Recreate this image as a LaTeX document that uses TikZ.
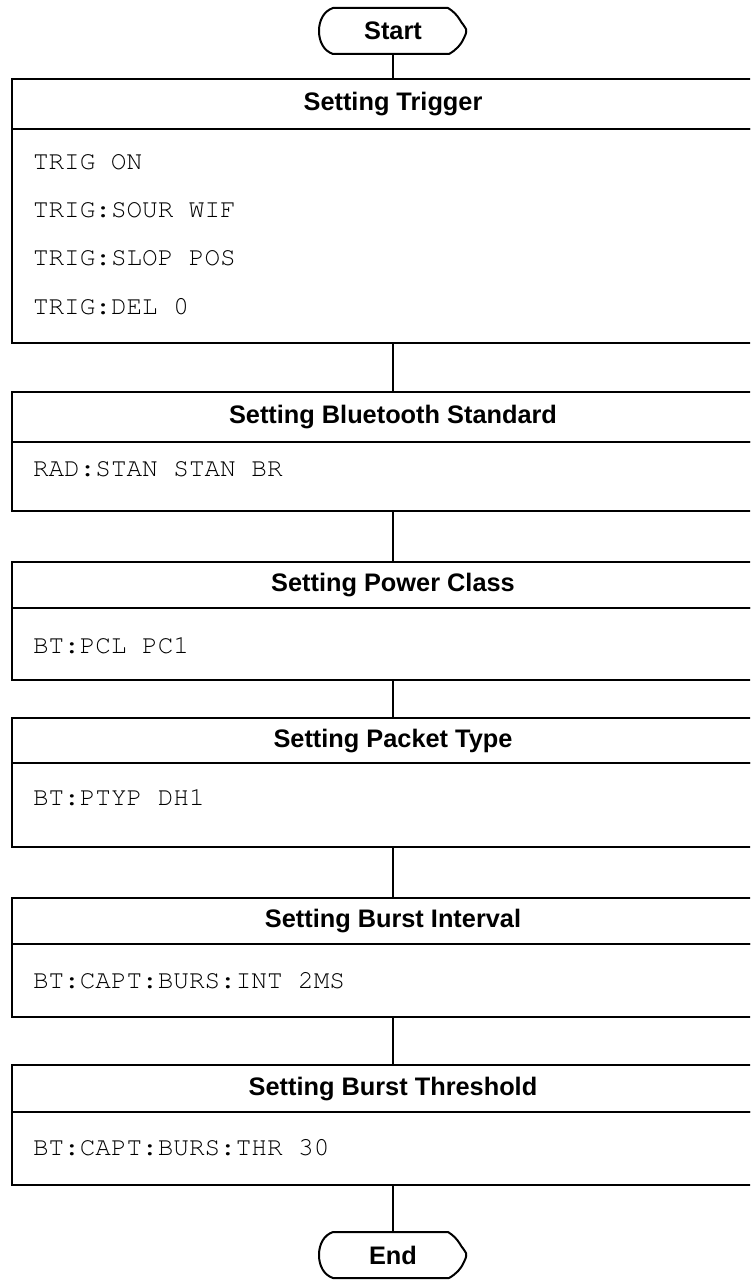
\documentclass[tikz,border=0pt]{standalone}
\usepackage[T1]{fontenc}
\usepackage{fontspec}
\setmainfont{Liberation Sans}
\newcommand{\codefont}{\fontencoding{T1}\fontfamily{pcr}\fontseries{m}\fontshape{n}\selectfont}
\tikzset{
  hdr/.style={draw, rectangle, minimum width=571.5pt, inner sep=0pt, font=\bfseries\fontsize{19}{22}\selectfont},
  bdy/.style={draw, rectangle, minimum width=571.5pt, inner sep=0pt},
  code/.style={anchor=west, inner sep=0pt, font=\codefont\fontsize{19.5}{22}\selectfont},
  termtxt/.style={rectangle, minimum width=111pt, minimum height=34.5pt, inner sep=0pt, font=\bfseries\fontsize{19}{22}\selectfont},
  conn/.style={draw, line width=1.5pt}
}
\newcommand{\termpath}{(-60,-23) -- (55,-23) .. controls (60,-20) and (64,-16) .. (67,-11) .. controls (69,-7) and (72,-5) .. (73,-2) .. controls (74,2) and (72,4) .. (71,7) .. controls (68,14) and (63,19) .. (56,23) -- (-60,23) .. controls (-69,20) and (-74,11) .. (-74,0) .. controls (-74,-11) and (-69,-20) .. (-60,-23) -- cycle}
\begin{document}
\begin{tikzpicture}[x=0.75pt, y=-0.75pt, line width=1.5pt]
\useasboundingbox (0,0) rectangle (750,1280);
\clip (0,0) rectangle (750,1280);
\fill[white] (0,0) rectangle (750,1280);

% Start
\node[termtxt] (start) at (393,31) {Start};
\begin{scope}[shift={(start.center)}]
  \draw[line join=round] \termpath;
\end{scope}

% Box 1
\node[hdr, minimum height=37.5pt] (h1) at (393,104) {Setting Trigger};
\node[bdy, minimum height=160.5pt] (b1) at (393,236) {};
\node[code] (t1a) at (32,162) {TRIG ON};
\node[code] (t1b) at (32,210) {TRIG:SOUR WIF};
\node[code] (t1c) at (32,258) {TRIG:SLOP POS};
\node[code] (t1d) at (32,306) {TRIG:DEL 0};

% Box 2
\node[hdr, minimum height=37.5pt] (h2) at (393,417) {Setting Bluetooth Standard};
\node[bdy, minimum height=51.75pt] (b2) at (393,476.5) {};
\node[code] (t2a) at (32,469) {RAD:STAN STAN BR};

% Box 3
\node[hdr, minimum height=34.5pt] (h3) at (393,585) {Setting Power Class};
\node[bdy, minimum height=54pt] (b3) at (393,644) {};
\node[code] (t3a) at (32,645) {BT:PCL PC1};

% Box 4
\node[hdr, minimum height=33.75pt] (h4) at (393,740.5) {Setting Packet Type};
\node[bdy, minimum height=63pt] (b4) at (393,805) {};
\node[code] (t4a) at (32,797) {BT:PTYP DH1};

% Box 5
\node[hdr, minimum height=34.5pt] (h5) at (393,921) {Setting Burst Interval};
\node[bdy, minimum height=54.75pt] (b5) at (393,980.5) {};
\node[code] (t5a) at (32,980) {BT:CAPT:BURS:INT 2MS};

% Box 6
\node[hdr, minimum height=35.25pt] (h6) at (393,1088.5) {Setting Burst Threshold};
\node[bdy, minimum height=54.75pt] (b6) at (393,1148.5) {};
\node[code] (t6a) at (32,1147) {BT:CAPT:BURS:THR 30};

% End
\node[termtxt] (end) at (393,1255) {End};
\begin{scope}[shift={(end.center)}]
  \draw[line join=round] \termpath;
\end{scope}

% Connectors
\draw[conn] (start.south) -- (h1.north);
\draw[conn] (b1.south) -- (h2.north);
\draw[conn] (b2.south) -- (h3.north);
\draw[conn] (b3.south) -- (h4.north);
\draw[conn] (b4.south) -- (h5.north);
\draw[conn] (b5.south) -- (h6.north);
\draw[conn] (b6.south) -- (end.north);
\end{tikzpicture}
\end{document}
